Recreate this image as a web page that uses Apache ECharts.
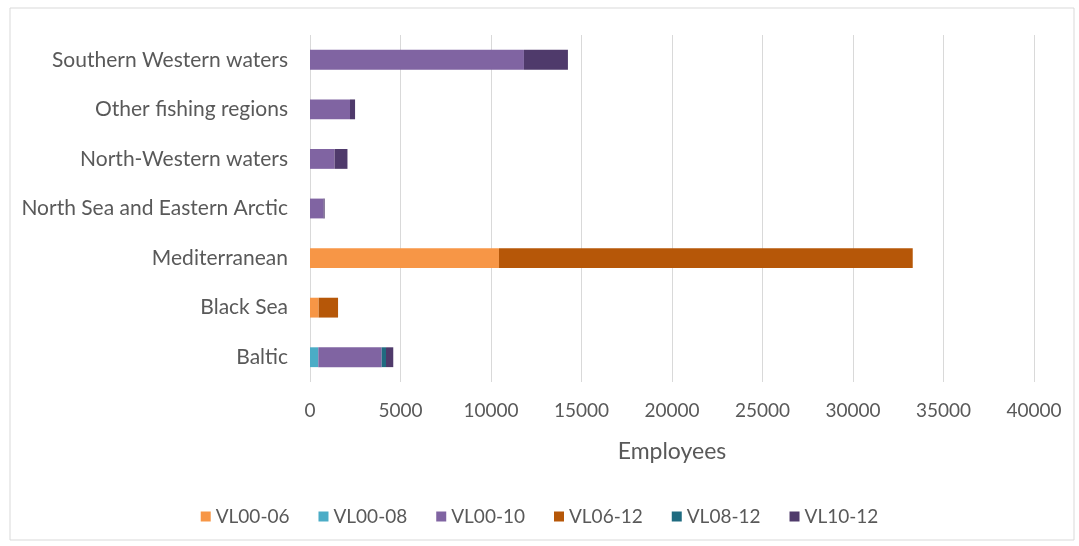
<!DOCTYPE html>
<html><head><meta charset="utf-8">
<script src="https://cdn.jsdelivr.net/npm/echarts@6/dist/echarts.min.js"></script>
<style>html,body{margin:0;padding:0;background:#fff}#c{width:1079px;height:546px}</style>
</head><body><div id="c"></div>
<script>
const categories = ['Baltic','Black Sea','Mediterranean','North Sea and Eastern Arctic','North-Western waters','Other fishing regions','Southern Western waters'];
const seriesNames = ['VL00-06','VL00-08','VL00-10','VL06-12','VL08-12','VL10-12'];
const VL00_06 = [0, 480, 10440, 0, 0, 0, 0];
const VL00_08 = [460, 0, 0, 0, 0, 0, 0];
const VL00_10 = [3500, 0, 0, 750, 1360, 2210, 11820];
const VL06_12 = [0, 1070, 22860, 0, 0, 0, 0];
const VL08_12 = [240, 0, 0, 0, 0, 0, 0];
const VL10_12 = [400, 0, 0, 60, 710, 280, 2430];
const colors = ['#F79646','#4BACC6','#8064A2','#B65708','#1F6B80','#4F3A6B'];
const xTicks = {min:0, max:40000, interval:5000};

const dataArr = [VL00_06, VL00_08, VL00_10, VL06_12, VL08_12, VL10_12];
const font = 'Lato';
const chart = echarts.init(document.getElementById('c'));
chart.setOption({
  animation:false,
  graphic:[{type:'rect',shape:{x:10,y:8,width:1064,height:532},style:{fill:'none',stroke:'#d9d9d9',lineWidth:1}}],
  grid:{left:310,right:45,top:35,bottom:164},
  xAxis:{type:'value',min:xTicks.min,max:xTicks.max,interval:xTicks.interval,
    name:'Employees',nameLocation:'middle',nameGap:58,
    nameTextStyle:{color:'#595959',fontSize:23,fontFamily:font},
    axisLine:{show:false},axisTick:{show:false},
    axisLabel:{color:'#595959',fontSize:19,fontFamily:font,margin:19,formatter:v=>String(v)},
    splitLine:{lineStyle:{color:'#d9d9d9',width:1}}},
  yAxis:{type:'category',data:categories,
    axisLine:{show:false},axisTick:{show:false},
    axisLabel:{color:'#595959',fontSize:21,fontFamily:font,margin:22}},
  legend:{bottom:15,left:'center',itemWidth:10,itemHeight:10,itemGap:29,icon:'rect',
    textStyle:{color:'#595959',fontSize:19,fontFamily:font},data:seriesNames},
  series: seriesNames.map((n,i)=>({name:n,type:'bar',stack:'t',barWidth:'40%',
    itemStyle:{color:colors[i]},data:dataArr[i]}))
});
</script></body></html>
